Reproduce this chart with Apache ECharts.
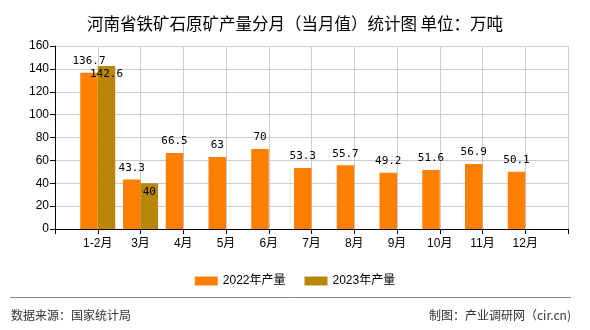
<!DOCTYPE html>
<html>
<head>
<meta charset="utf-8">
<script src="https://cdn.jsdelivr.net/npm/echarts@6/dist/echarts.min.js"></script>
<style>
html,body{margin:0;padding:0;background:#fff;}
#c{width:590px;height:330px;}
</style>
</head>
<body>
<div id="c"></div>
<script>
var categories = ['1-2月','3月','4月','5月','6月','7月','8月','9月','10月','11月','12月'];
var values2022 = [136.7, 43.3, 66.5, 63, 70, 53.3, 55.7, 49.2, 51.6, 56.9, 50.1];
var values2023 = [142.6, 40];
var seriesNames = ['2022年产量','2023年产量'];
var yTicks = [0, 20, 40, 60, 80, 100, 120, 140, 160];
var titleText = '河南省铁矿石原矿产量分月（当月值）统计图 单位：万吨';
var sourceText = '数据来源：国家统计局';
var makerText = '制图：产业调研网（cir.cn)';

function pad(arr){
  var out = ['-'];
  for (var i = 0; i < categories.length; i++) out.push(i < arr.length ? arr[i] : '-');
  out.push('-');
  return out;
}
var axisCats = [''].concat(categories).concat(['']);

var chart = echarts.init(document.getElementById('c'), null, {renderer:'canvas'});
var cjk = '"SimSun","Noto Sans CJK SC",sans-serif';
var mono = '"DejaVu Sans Mono","Liberation Mono",monospace';
chart.setOption({
  animation: false,
  backgroundColor: '#fff',
  title: {
    text: titleText,
    left: 'center',
    top: 10,
    textStyle: {fontSize: 16.5, fontWeight: 'normal', color: '#000', fontFamily: cjk}
  },
  legend: {
    data: seriesNames,
    left: 'center',
    top: 270,
    icon: 'rect',
    itemWidth: 23,
    itemHeight: 9,
    itemGap: 19,
    textStyle: {fontSize: 12, color: '#000', fontFamily: '"Liberation Sans","Noto Sans CJK SC",sans-serif'}
  },
  grid: {left: 55, right: 22, top: 46, bottom: 101},
  xAxis: {
    type: 'category',
    data: axisCats,
    boundaryGap: false,
    axisLine: {lineStyle: {color: '#000', width: 1}},
    axisTick: {show: true, interval: 0, length: 5, lineStyle: {color: '#000'}},
    axisLabel: {interval: 0, color: '#000', fontSize: 12, margin: 9, fontFamily: '"Liberation Sans","Noto Sans CJK SC",sans-serif'},
    splitLine: {show: true, interval: 0, lineStyle: {color: '#ccc', width: 1}}
  },
  yAxis: {
    type: 'value',
    min: yTicks[0],
    max: yTicks[yTicks.length-1],
    interval: yTicks[1]-yTicks[0],
    axisLine: {show: true, lineStyle: {color: '#000', width: 1}},
    axisTick: {show: true, length: 5, lineStyle: {color: '#000'}},
    axisLabel: {color: '#000', fontSize: 12, margin: 6, fontFamily: '"Liberation Sans",Arial,sans-serif'},
    splitLine: {show: true, lineStyle: {color: '#ccc', width: 1}}
  },
  series: [
    {
      name: seriesNames[0],
      type: 'bar',
      data: pad(values2022),
      barWidth: 17.5,
      barGap: '0%',
      itemStyle: {color: '#FF8000'},
      label: {show: true, position: 'top', distance: 6, color: '#000', fontSize: 11, fontFamily: mono}
    },
    {
      name: seriesNames[1],
      type: 'bar',
      data: pad(values2023),
      barWidth: 17.5,
      barGap: '0%',
      itemStyle: {color: '#B8860B'},
      label: {show: true, position: 'insideTop', distance: 3, color: '#000', fontSize: 11, fontFamily: mono}
    }
  ],
  graphic: [
    {type: 'line', shape: {x1: 10, y1: 297.5, x2: 571, y2: 297.5}, style: {stroke: '#888', lineWidth: 1}},
    {type: 'text', left: 11, top: 309, style: {text: sourceText, fill: '#333', fontSize: 12, fontFamily: cjk}},
    {type: 'text', right: 19, top: 309, style: {text: makerText, fill: '#333', fontSize: 12, fontFamily: cjk}}
  ]
});
</script>
</body>
</html>
